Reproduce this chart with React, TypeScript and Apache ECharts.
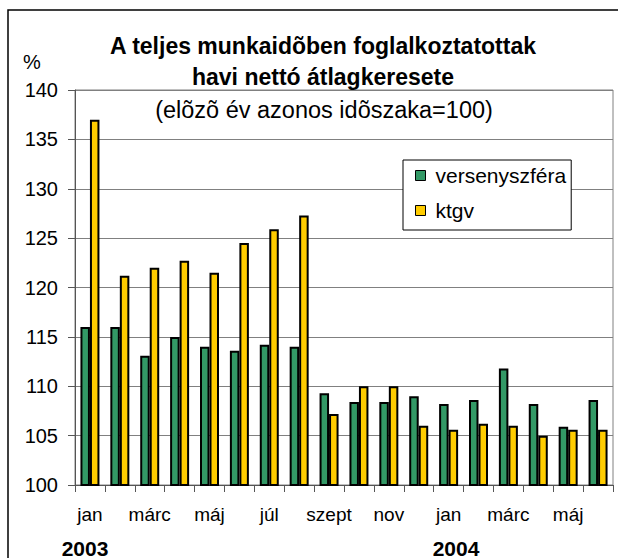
import React, { useEffect, useRef } from "react";
import * as echarts from "echarts";

const months = ["jan", "febr", "márc", "ápr", "máj", "jún", "júl", "aug", "szept", "okt", "nov", "dec", "jan", "febr", "márc", "ápr", "máj", "jún"];
const years = ["2003", "2004"];
const versenyszfera = [116.0, 116.0, 113.1, 115.0, 114.0, 113.6, 114.2, 114.0, 109.3, 108.4, 108.4, 109.0, 108.2, 108.6, 111.8, 108.2, 105.9, 108.6];
const ktgv = [137.0, 121.2, 122.0, 122.7, 121.5, 124.5, 125.9, 127.3, 107.2, 110.0, 110.0, 106.0, 105.6, 106.2, 106.0, 105.0, 105.6, 105.6];
const yTicks = { min: 100, max: 140, step: 5 };
const titleLines = ["A teljes munkaidõben foglalkoztatottak", "havi nettó átlagkeresete"];
const subtitle = "(elõzõ év azonos idõszaka=100)";
const seriesNames = ["versenyszféra", "ktgv"];

const FONT = "'Liberation Sans', Arial, sans-serif";

export default function App() {
  const ref = useRef<HTMLDivElement>(null);
  useEffect(() => {
    if (!ref.current) return;
    const chart = echarts.init(ref.current, null, { renderer: "svg" });
    chart.setOption({
      animation: false,
      backgroundColor: "#ffffff",
      textStyle: { fontFamily: FONT },
      title: [
        {
          text: titleLines.join("\n"),
          left: 318,
          textAlign: "center",
          top: 25,
          textStyle: { fontFamily: FONT, fontSize: 23, fontWeight: "bold", color: "#000", lineHeight: 31 },
        },
        {
          text: subtitle,
          left: 319,
          textAlign: "center",
          top: 93,
          textStyle: { fontFamily: FONT, fontSize: 23.5, fontWeight: "normal", color: "#000" },
        },
      ],
      legend: {
        orient: "vertical",
        left: 403,
        top: 160,
        padding: [5, 5, 9, 12],
        itemGap: 14,
        itemWidth: 10,
        itemHeight: 10,
        icon: "rect",
        backgroundColor: "#ffffff",
        borderColor: "#000",
        borderWidth: 1,
        borderRadius: 0,
        itemStyle: { borderColor: "#000", borderWidth: 1 },
        textStyle: { fontFamily: FONT, fontSize: 21, color: "#000", padding: [0, 0, 0, 5] },
        data: seriesNames,
      },
      grid: {
        left: 75,
        top: 90,
        right: 5,
        bottom: 73,
        show: true,
        borderColor: "#808080",
        borderWidth: 1,
        backgroundColor: "transparent",
      },
      xAxis: {
        type: "category",
        data: months,
        boundaryGap: true,
        axisLine: { show: true, lineStyle: { color: "#555", width: 1 } },
        axisTick: { show: true, interval: 0, length: 7, alignWithLabel: false, lineStyle: { color: "#555" } },
        axisLabel: { interval: 1, fontFamily: FONT, fontSize: 19, color: "#000", margin: 20 },
        splitLine: { show: false },
      },
      yAxis: {
        type: "value",
        min: yTicks.min,
        max: yTicks.max,
        interval: yTicks.step,
        axisLine: { show: true, lineStyle: { color: "#555", width: 1 } },
        axisTick: { show: true, length: 7, lineStyle: { color: "#555" } },
        axisLabel: { fontFamily: FONT, fontSize: 20, color: "#000", margin: 17 },
        splitLine: { show: true, lineStyle: { color: "#808080", width: 1 } },
      },
      series: [
        {
          name: seriesNames[0],
          type: "bar",
          data: versenyszfera,
          barWidth: 9.5,
          barGap: "0%",
          itemStyle: { color: "#339966", borderColor: "#000", borderWidth: 2 },
        },
        {
          name: seriesNames[1],
          type: "bar",
          data: ktgv,
          barWidth: 9.5,
          barGap: "0%",
          itemStyle: { color: "#FFCC00", borderColor: "#000", borderWidth: 2 },
        },
      ],
      graphic: [
        {
          type: "rect",
          silent: true,
          z: 100,
          shape: { x: 8, y: 10, width: 700, height: 700 },
          style: { fill: "none", stroke: "#000", lineWidth: 1.5 },
        },
        {
          type: "text",
          x: 23,
          y: 52,
          style: { text: "%", font: `20px ${FONT}`, fill: "#000" },
        },
        {
          type: "text",
          x: 85,
          y: 548,
          style: { text: years[0], font: `bold 21px ${FONT}`, fill: "#000", align: "center", verticalAlign: "middle" },
        },
        {
          type: "text",
          x: 456,
          y: 548,
          style: { text: years[1], font: `bold 21px ${FONT}`, fill: "#000", align: "center", verticalAlign: "middle" },
        },
      ],
    });
    return () => chart.dispose();
  }, []);
  return <div ref={ref} style={{ position: "fixed", left: 0, top: 0, width: 618, height: 558 }} />;
}
